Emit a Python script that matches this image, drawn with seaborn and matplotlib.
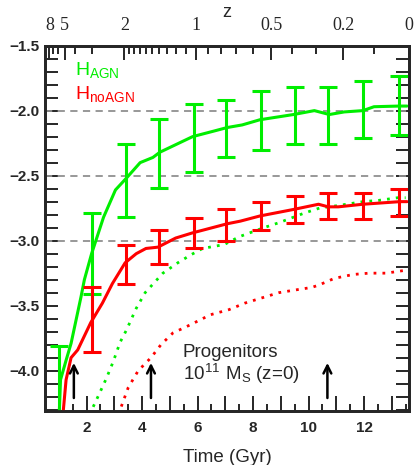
import numpy as np
import matplotlib
matplotlib.use("Agg")
import matplotlib.pyplot as plt
import seaborn as sns


# Values (time in Gyr, log values)
agn_t = [1.00, 1.06, 1.26, 1.44, 1.62, 1.80, 1.92, 2.18, 2.61, 3.04, 3.43, 3.93, 4.39,
         4.64, 5.82, 6.54, 7.07, 7.61, 8.25, 9.46, 10.21, 10.75, 11.29, 11.96, 12.36,
         13.25, 13.55]
agn_y = [-4.40, -4.07, -3.92, -3.79, -3.61, -3.43, -3.30, -3.10, -2.82, -2.61, -2.52,
         -2.40, -2.36, -2.32, -2.20, -2.16, -2.13, -2.11, -2.07, -2.03, -2.00, -2.03,
         -2.01, -2.00, -1.97, -1.965, -1.965]

noagn_t = [1.12, 1.26, 1.44, 1.68, 2.15, 2.57, 2.93, 3.39, 3.79, 4.14, 4.57, 5.21, 5.82,
           6.18, 7.07, 7.54, 8.25, 9.46, 10.36, 10.71, 11.07, 11.96, 13.29, 13.55]
noagn_y = [-4.40, -4.07, -3.90, -3.84, -3.63, -3.48, -3.33, -3.17, -3.10, -3.06, -3.05,
           -2.98, -2.94, -2.92, -2.87, -2.85, -2.81, -2.76, -2.72, -2.74, -2.74, -2.72,
           -2.70, -2.70]

# error bars
bar_t = [1.00, 2.18, 3.43, 4.61, 5.86, 7.04, 8.29, 9.50, 10.71, 11.96, 13.25]
agn_bar_mean = [-4.32, -3.10, -2.54, -2.33, -2.21, -2.14, -2.075, -2.04, -2.04, -1.99, -1.96]
agn_bar_err = [0.51, 0.31, 0.28, 0.265, 0.26, 0.22, 0.225, 0.22, 0.22, 0.22, 0.23]
noagn_bar_t = bar_t[1:]
noagn_bar_mean = [-3.61, -3.18, -3.05, -2.94, -2.88, -2.81, -2.76, -2.73, -2.73, -2.705]
noagn_bar_err = [0.25, 0.15, 0.13, 0.115, 0.12, 0.11, 0.105, 0.10, 0.10, 0.105]

# dotted curves
agn_dot_t = [2.10, 2.43, 2.71, 2.96, 3.21, 3.43, 3.79, 4.11, 4.75, 5.29, 5.75, 6.18, 6.96,
             7.50, 8.39, 8.96, 9.82, 10.39, 11.07, 11.96, 12.54, 13.21, 13.50]
agn_dot_y = [-4.34, -4.19, -4.06, -3.93, -3.78, -3.69, -3.52, -3.40, -3.25, -3.17, -3.11,
             -3.06, -3.03, -2.97, -2.90, -2.86, -2.79, -2.75, -2.73, -2.70, -2.69, -2.67,
             -2.67]
noagn_dot_t = [3.14, 3.50, 3.86, 4.32, 4.68, 5.11, 5.71, 6.46, 7.14, 7.71, 8.32, 8.93, 9.50,
               10.11, 10.39, 10.93, 11.61, 12.18, 12.79, 13.43]
noagn_dot_y = [-4.34, -4.13, -4.00, -3.90, -3.80, -3.71, -3.65, -3.57, -3.53, -3.48, -3.44,
               -3.40, -3.38, -3.36, -3.34, -3.29, -3.26, -3.25, -3.25, -3.23]

arrow_t = [1.54, 4.32, 10.68]
arrow_base, arrow_tip = -4.21, -3.94

ref_levels = [-2.0, -2.5, -3.0]

z_major = [8, 5, 2, 1, 0.5, 0.2, 0]
z_major_labels = ["8", "5", "2", "1", "0.5", "0.2", "0"]
z_minor = [7, 6, 4, 3, 1.9, 1.8, 1.7, 1.6, 1.5, 1.4, 1.3, 1.2, 1.1,
           0.9, 0.8, 0.7, 0.6, 0.4, 0.3, 0.1]


# cosmic age for a flat LCDM universe
def age(z, h0=72.0, om=0.26):
    ol = 1.0 - om
    th = 977.8 / h0
    z = np.asarray(z, dtype=float)
    return 2.0 / (3.0 * np.sqrt(ol)) * th * np.arcsinh(np.sqrt(ol / om) * (1.0 + z) ** -1.5)


green = "#00ee00"
red = "#ff0000"

sns.set_style("ticks")
plt.rcParams["font.family"] = ["Liberation Sans", "DejaVu Sans"]
plt.rcParams["axes.linewidth"] = 2.0

fig = plt.figure(figsize=(4.15, 4.65), dpi=100)
ax = fig.add_axes([45 / 415, 1 - 411 / 465, 364 / 415, 365.4 / 465])

for lev in ref_levels:
    ax.axhline(lev, color="#909090", lw=1.3, ls=(0, (4, 3)), zorder=1)

sns.lineplot(x=agn_t, y=agn_y, color=green, lw=2.2, ax=ax, sort=False, zorder=3)
sns.lineplot(x=noagn_t, y=noagn_y, color=red, lw=2.2, ax=ax, sort=False, zorder=3)
sns.lineplot(x=agn_dot_t, y=agn_dot_y, color=green, lw=2.0, ls=(0, (1, 2.2)), ax=ax,
             sort=False, zorder=2)
sns.lineplot(x=noagn_dot_t, y=noagn_dot_y, color=red, lw=2.0, ls=(0, (1, 2.2)), ax=ax,
             sort=False, zorder=2)

ax.errorbar(bar_t, agn_bar_mean, yerr=agn_bar_err, fmt="none", ecolor=green,
            elinewidth=2.2, capsize=6.5, capthick=2.2, zorder=3)
ax.errorbar(noagn_bar_t, noagn_bar_mean, yerr=noagn_bar_err, fmt="none", ecolor=red,
            elinewidth=2.2, capsize=6.5, capthick=2.2, zorder=3)

for t in arrow_t:
    ax.annotate("", xy=(t, arrow_tip), xytext=(t, arrow_base),
                arrowprops=dict(arrowstyle="->", color="black", lw=1.8,
                                mutation_scale=14, shrinkA=0, shrinkB=0))

ax.set_xlim(float(age(8)), float(age(0)))
ax.set_ylim(-4.31, -1.5)

# bottom axis
xt = list(range(1, 14))
ax.set_xticks(xt, labels=[str(v) if v % 2 == 0 else "" for v in xt],
              fontweight="bold", fontsize=11)
ax.set_xticks(np.arange(0.5, 14, 0.5), minor=True)
yt = [-4.0, -3.5, -3.0, -2.5, -2.0, -1.5]
ax.set_yticks(yt, labels=[f"{v:.1f}".replace("-", "\u2212") for v in yt],
              fontweight="bold", fontsize=11)
ax.set_yticks(np.arange(-4.3, -1.45, 0.1), minor=True)

ax.tick_params(axis="x", which="major", direction="in", length=10.5, width=1.4,
               top=False, pad=7)
ax.tick_params(axis="x", which="minor", direction="in", length=5, width=1.4, top=False)
ax.tick_params(axis="y", which="both", direction="in", length=9.5, width=1.4,
               left=True, right=True, pad=4)
ax.set_xlabel("Time (Gyr)", fontsize=13.5, labelpad=10)
ax.set_ylabel("")

# top redshift axis
ax2 = ax.twiny()
ax2.set_xlim(ax.get_xlim())
ax2.set_xticks(age(z_major), labels=z_major_labels, fontfamily="Liberation Serif",
               fontsize=13)
ax2.set_xticks(age(z_minor), minor=True)
ax2.tick_params(axis="x", which="major", direction="in", length=10, width=1.4, pad=8)
ax2.tick_params(axis="x", which="minor", direction="in", length=6, width=1.4)
ax2.set_xlabel("z", fontsize=13, labelpad=0)

for a in (ax, ax2):
    for sp in a.spines.values():
        sp.set_linewidth(2.0)
        sp.set_visible(True)

ax.text(0.082, 0.9195, r"$\mathregular{H_{AGN}}$", color=green, fontsize=14,
        transform=ax.transAxes, va="baseline")
ax.text(0.082, 0.853, r"$\mathregular{H_{noAGN}}$", color=red, fontsize=14,
        transform=ax.transAxes, va="baseline")
ax.text(0.379, 0.148, "Progenitors", fontsize=13.5, transform=ax.transAxes,
        va="baseline")
ax.text(0.379, 0.0848, r"$\mathregular{10^{11}\ M_S}$ (z=0)", fontsize=13.5,
        transform=ax.transAxes, va="baseline")

fig.savefig("out.png", dpi=100)
